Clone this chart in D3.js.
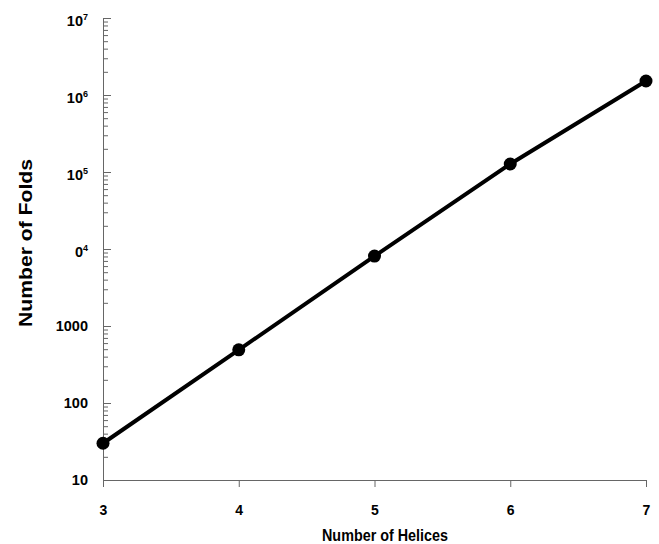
<!DOCTYPE html>
<html>
<head>
<meta charset="utf-8">
<script src="https://cdn.jsdelivr.net/npm/d3@7"></script>
<style>
    body { margin: 0; background: #fff; }
    svg { display: block; }
    .tick text { font-family: "Liberation Sans", Arial, sans-serif; font-weight: bold; fill: #000; }
</style>
</head>
<body>
<svg id="Target" width="659" height="544"></svg>
<script>
// data
var helices = [3, 4, 5, 6, 7];
var folds = [30, 490, 8100, 127000, 1520000];
var yTickValues = [10, 100, 1000, 1e4, 1e5, 1e6, 1e7];
var yTickBase = ["10", "100", "1000", "0", "10", "10", "10"];
var yTickExp = ["", "", "", "4", "5", "6", "7"];

var svg = d3.select("#Target");

var x = d3.scaleLinear().domain([3, 7]).range([103, 646]);
var y = d3.scaleLog().domain([10, 1e7]).range([480, 18]);

// minor ticks 2..9 in each decade
var minorTicks = [];
yTickValues.slice(0, -1).forEach(function (d) {
    for (var k = 2; k <= 9; k++) { minorTicks.push(d * k); }
});

var axisColor = "#666";

// x axis
var xAxis = svg.append("g")
    .attr("transform", "translate(0,480)")
    .call(d3.axisBottom(x)
        .tickValues(helices)
        .tickSize(7)
        .tickSizeOuter(0)
        .tickPadding(18)
        .tickFormat(d3.format("d")));
xAxis.select(".domain").attr("stroke", axisColor);
xAxis.selectAll(".tick line").attr("stroke", axisColor);
xAxis.selectAll(".tick text").attr("font-size", 14);

// y axis minor ticks
var yMinor = svg.append("g")
    .attr("transform", "translate(103,0)")
    .call(d3.axisLeft(y).tickValues(minorTicks).tickSize(-5).tickFormat(""));
yMinor.select(".domain").remove();
yMinor.selectAll(".tick line").attr("stroke", axisColor);

// y axis major ticks
var yAxis = svg.append("g")
    .attr("transform", "translate(103,0)")
    .call(d3.axisLeft(y)
        .tickValues(yTickValues)
        .tickSize(-8)
        .tickSizeOuter(0)
        .tickPadding(15));
yAxis.select(".domain").attr("stroke", axisColor);
yAxis.selectAll(".tick line").attr("stroke", axisColor);
yAxis.selectAll(".tick text")
    .attr("font-size", 14.5)
    .text(null)
    .each(function (d, i) {
        var t = d3.select(this);
        t.append("tspan").text(yTickBase[i]);
        if (yTickExp[i]) {
            t.append("tspan")
                .attr("font-size", 9)
                .attr("dy", "-0.75em")
                .text(yTickExp[i]);
            t.attr("dy", "0.55em");
        }
    });

// line + dots
var line = d3.line()
    .x(function (d, i) { return x(helices[i]); })
    .y(function (d) { return y(d); });

svg.append("path")
    .datum(folds)
    .attr("d", line)
    .attr("fill", "none")
    .attr("stroke", "#000")
    .attr("stroke-width", 4);

svg.selectAll("circle.pt")
    .data(folds)
    .enter()
    .append("circle")
    .attr("class", "pt")
    .attr("cx", function (d, i) { return x(helices[i]); })
    .attr("cy", function (d) { return y(d); })
    .attr("r", 6.5)
    .attr("fill", "#000");

// axis titles
svg.append("text")
    .attr("x", 385)
    .attr("y", 541)
    .attr("text-anchor", "middle")
    .attr("font-family", "Liberation Sans, Arial, sans-serif")
    .attr("font-weight", "bold")
    .attr("font-size", 17)
    .attr("textLength", 126)
    .attr("lengthAdjust", "spacingAndGlyphs")
    .text("Number of Helices");

svg.append("text")
    .attr("transform", "translate(32,243) rotate(-90)")
    .attr("text-anchor", "middle")
    .attr("font-family", "Liberation Sans, Arial, sans-serif")
    .attr("font-weight", "bold")
    .attr("font-size", 19)
    .attr("textLength", 168)
    .attr("lengthAdjust", "spacingAndGlyphs")
    .text("Number of Folds");
</script>
</body>
</html>
